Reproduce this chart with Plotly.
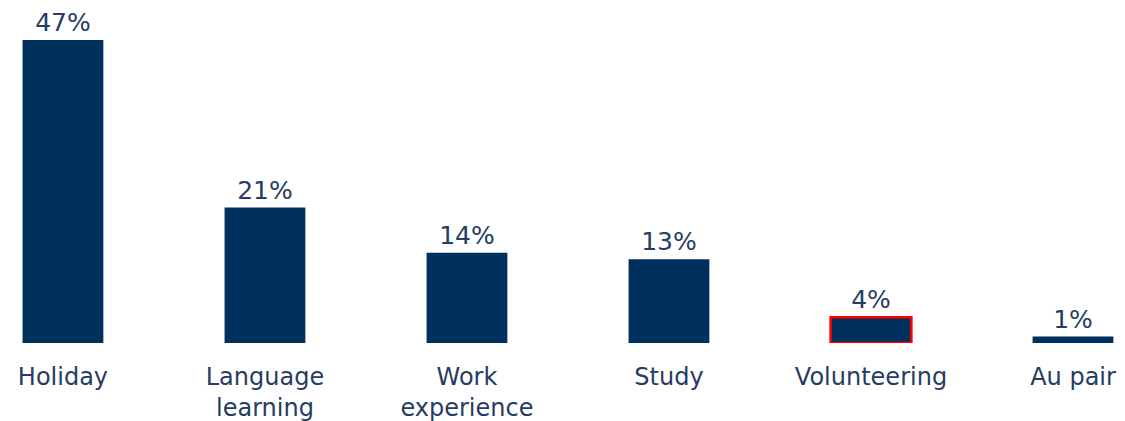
import plotly.graph_objects as go

categories = ["Holiday", "Language<br>learning", "Work<br>experience", "Study", "Volunteering", "Au pair"]
values = [47, 21, 14, 13, 4, 1]
value_labels = ["47%", "21%", "14%", "13%", "4%", "1%"]

bar_color = "#00305e"
text_color = "#263c62"
outline_colors = ["rgba(0,0,0,0)"] * 4 + ["#ff0000", "rgba(0,0,0,0)"]
outline_widths = [0, 0, 0, 0, 2.5, 0]
FONT = "DejaVu Sans"

fig = go.Figure(go.Bar(
    x=categories,
    y=values,
    text=value_labels,
    textposition="outside",
    textfont=dict(size=25, color=text_color, family=FONT),
    cliponaxis=False,
    width=0.4,
    marker=dict(color=bar_color, line=dict(color=outline_colors, width=outline_widths)),
))

fig.update_layout(
    width=1125, height=421,
    margin=dict(l=0, r=0, t=0, b=86),
    plot_bgcolor="white", paper_bgcolor="white",
    showlegend=False,
    font=dict(family=FONT, color=text_color, size=24),
    xaxis=dict(range=[-0.272, 5.297], showgrid=False, showline=False, zeroline=False,
               ticks="", tickfont=dict(size=24, color=text_color, family=FONT), ticklabelstandoff=17),
    yaxis=dict(range=[0, 51.96], visible=False),
)

fig.write_html("out.html")
